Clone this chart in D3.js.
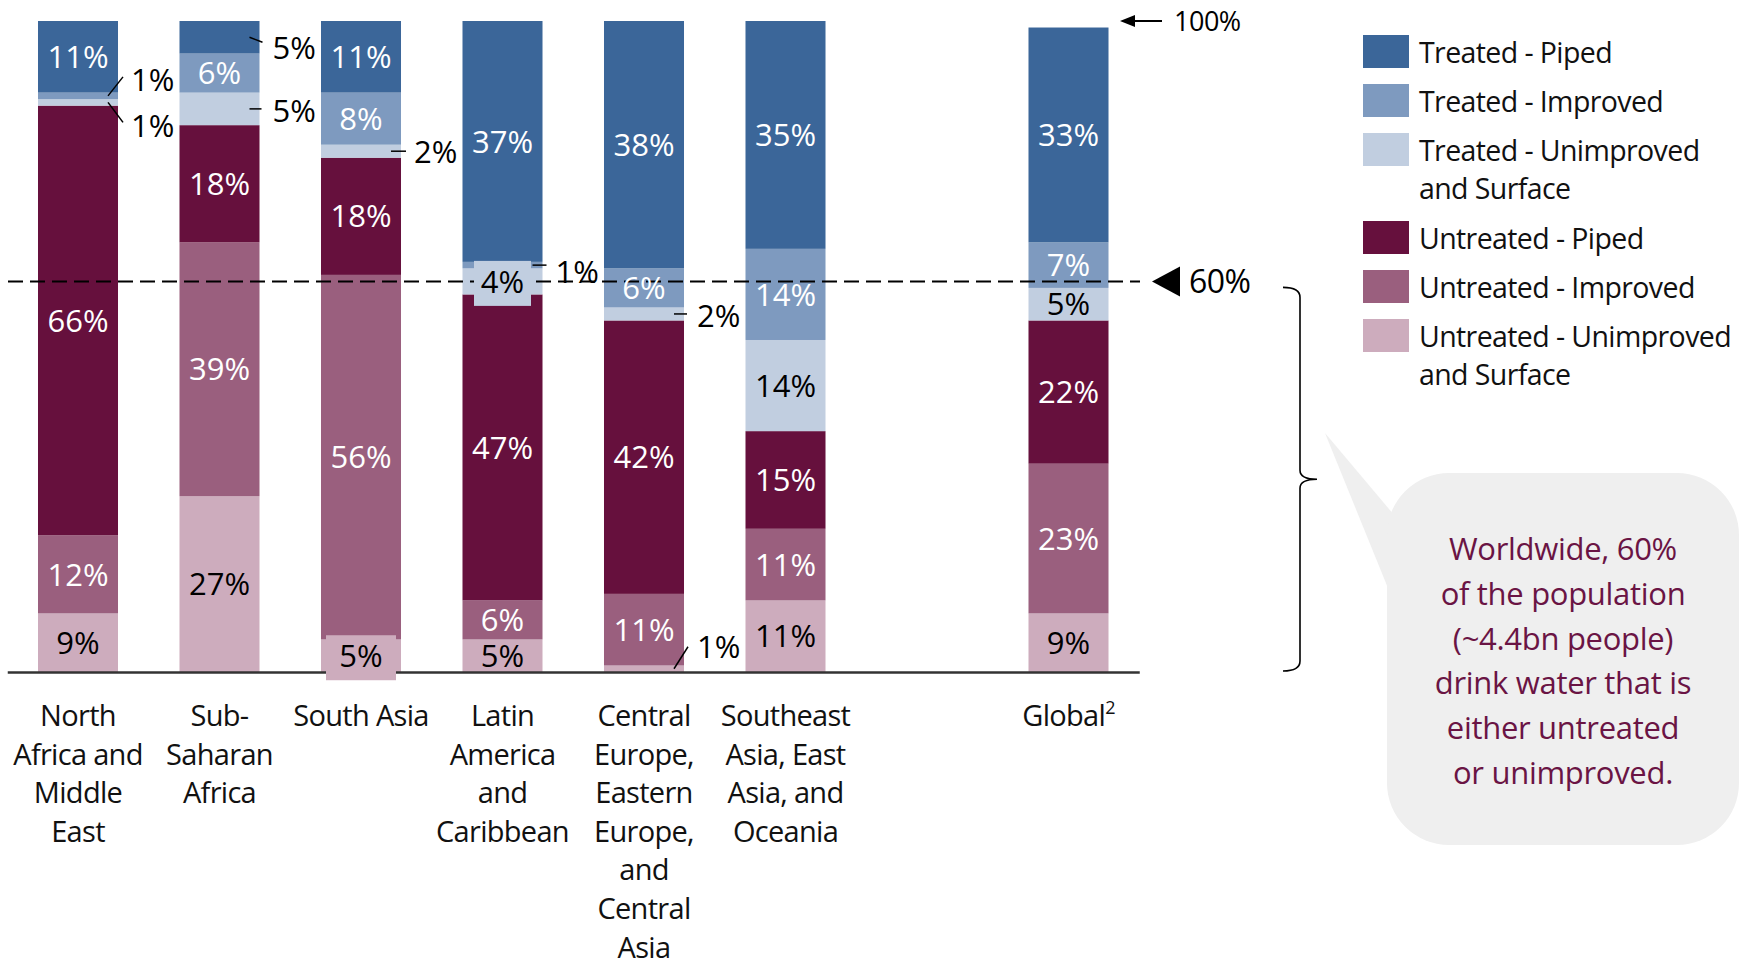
<!DOCTYPE html>
<html>
<head>
<meta charset="utf-8">
<script src="https://cdn.jsdelivr.net/npm/d3@7"></script>
<style>
  html, body { margin: 0; padding: 0; background: #ffffff; }
  svg { display: block; font-family: 'Open Sans', sans-serif; }
</style>
</head>
<body>
<svg id="chart" width="1752" height="958"></svg>
<script>
// ---- data -------------------------------------------------------------
const categories = [
  "North Africa and Middle East",
  "Sub-Saharan Africa",
  "South Asia",
  "Latin America and Caribbean",
  "Central Europe, Eastern Europe, and Central Asia",
  "Southeast Asia, East Asia, and Oceania",
  "Global"
];
const categoryLines = [
  ["North", "Africa and", "Middle", "East"],
  ["Sub-", "Saharan", "Africa"],
  ["South Asia"],
  ["Latin", "America", "and", "Caribbean"],
  ["Central", "Europe,", "Eastern", "Europe,", "and", "Central", "Asia"],
  ["Southeast", "Asia, East", "Asia, and", "Oceania"],
  ["Global"]
];
// series, stacked bottom to top (percent of population)
const seriesNames = [
  "Untreated - Unimproved and Surface",
  "Untreated - Improved",
  "Untreated - Piped",
  "Treated - Unimproved and Surface",
  "Treated - Improved",
  "Treated - Piped"
];
const untreatedUnimproved = [9, 27, 5, 5, 1, 11, 9];
const untreatedImproved   = [12, 39, 56, 6, 11, 11, 23];
const untreatedPiped      = [66, 18, 18, 47, 42, 15, 22];
const treatedUnimproved   = [1, 5, 2, 4, 2, 14, 5];
const treatedImproved     = [1, 6, 8, 1, 6, 14, 7];
const treatedPiped        = [11, 5, 11, 37, 38, 35, 33];
const seriesValues = [untreatedUnimproved, untreatedImproved, untreatedPiped,
                      treatedUnimproved, treatedImproved, treatedPiped];
const thresholdValue = 60;
const calloutLines = [
  "Worldwide, 60%",
  "of the population",
  "(~4.4bn people)",
  "drink water that is",
  "either untreated",
  "or unimproved."
];

// ---- styling ----------------------------------------------------------
const colors = {
  "Untreated - Unimproved and Surface": "#cdacbd",
  "Untreated - Improved": "#9a5f7e",
  "Untreated - Piped": "#66103d",
  "Treated - Unimproved and Surface": "#c1cee0",
  "Treated - Improved": "#7e9abf",
  "Treated - Piped": "#3b6699"
};
const darkText = {
  "Untreated - Unimproved and Surface": true,
  "Treated - Unimproved and Surface": true
};

const rows = categories.map((c, i) => {
  const r = { category: c };
  seriesNames.forEach((s, k) => { r[s] = seriesValues[k][i]; });
  return r;
});
const stacked = d3.stack().keys(seriesNames)(rows);

const svg = d3.select("#chart");

// band slots: one empty slot separates the regions from the global bar
const slots = categories.slice(0, 6).concat(["", "Global"]);
const x = d3.scaleBand()
  .domain(slots)
  .range([7.25, 7.25 + 8 * 141.5])
  .paddingInner(0.4346)
  .paddingOuter(0.2173);
const y = d3.scaleLinear().domain([0, 100]).range([672, 21]);
const bw = x.bandwidth();

// ---- bars -------------------------------------------------------------
const layers = svg.append("g").selectAll("g")
  .data(stacked)
  .join("g")
  .attr("fill", d => colors[d.key]);

layers.selectAll("rect")
  .data(d => d.map(p => Object.assign(p, { key: d.key })))
  .join("rect")
  .attr("x", d => x(d.data.category))
  .attr("y", d => y(d[1]))
  .attr("width", bw)
  .attr("height", d => y(d[0]) - y(d[1]));

// ---- baseline axis ----------------------------------------------------
const axis = svg.append("g")
  .attr("transform", `translate(0,${y(0)})`)
  .call(d3.axisBottom(x).tickSize(0).tickSizeOuter(0).tickFormat(""));
axis.select(".domain").attr("stroke", "#333").attr("stroke-width", 2.5);

// category labels under each bar
const catFont = 29;
categories.forEach((c, i) => {
  const t = svg.append("text")
    .attr("x", x(c) + bw / 2)
    .attr("y", 726)
    .attr("text-anchor", "middle")
    .attr("font-size", catFont)
    .attr("letter-spacing", -0.7)
    .attr("fill", "#111");
  categoryLines[i].forEach((ln, j) => {
    const ts = t.append("tspan")
      .attr("x", x(c) + bw / 2)
      .attr("dy", j === 0 ? 0 : 38.6)
      .text(ln);
  });
  if (c === "Global") {
    t.append("tspan").attr("font-size", 18).attr("dy", -12).text("2");
  }
});

// ---- 60% threshold line ----------------------------------------------
svg.append("line")
  .attr("x1", 8).attr("x2", 1140)
  .attr("y1", y(thresholdValue)).attr("y2", y(thresholdValue))
  .attr("stroke", "#000")
  .attr("stroke-width", 2)
  .attr("stroke-dasharray", "15,7");

svg.append("path")
  .attr("d", `M1152,${y(thresholdValue)} L1180,${y(thresholdValue) - 15} L1180,${y(thresholdValue) + 15} Z`)
  .attr("fill", "#000");
svg.append("text")
  .attr("x", 1189).attr("y", y(thresholdValue) + 12)
  .attr("font-size", 32)
  .attr("letter-spacing", -0.5)
  .text(thresholdValue + "%");

// 100% marker
svg.append("line")
  .attr("x1", 1132).attr("x2", 1162)
  .attr("y1", y(100)).attr("y2", y(100))
  .attr("stroke", "#000").attr("stroke-width", 2);
svg.append("path")
  .attr("d", `M1120,${y(100)} L1135,${y(100) - 6} L1135,${y(100) + 6} Z`)
  .attr("fill", "#000");
svg.append("text")
  .attr("x", 1174).attr("y", y(100) + 10)
  .attr("font-size", 27)
  .attr("letter-spacing", -0.5)
  .text("100%");

// ---- segment labels ---------------------------------------------------
// labels that sit beside their bar with a short leader line
const besideLabels = {
  "0|Treated - Improved": { dx: 5, dy: -19, ty: 91 },
  "0|Treated - Unimproved and Surface": { dx: 5, dy: 20, ty: 137 },
  "1|Treated - Piped": { dx: 3, dy: 5, ty: 59 },
  "1|Treated - Unimproved and Surface": { dx: 2, dy: 0, ty: 122 },
  "2|Treated - Unimproved and Surface": { dx: 5, dy: 0, ty: 163 },
  "3|Treated - Improved": { dx: 4, dy: 0, ty: 283 },
  "4|Treated - Unimproved and Surface": { dx: 3, dy: 0, ty: 327 },
  "4|Untreated - Unimproved and Surface": { dx: 4, dy: -22, ty: 658 }
};
// labels drawn on a patch of their segment colour
const boxedLabels = {
  "2|Untreated - Unimproved and Surface": { w: 70, h: 45 },
  "3|Treated - Unimproved and Surface": { w: 57, h: 45 }
};

const labelLayer = svg.append("g");
stacked.forEach(layer => {
  layer.forEach((d, i) => {
    const key = i + "|" + layer.key;
    const v = d[1] - d[0];
    const cx = x(d.data.category) + bw / 2;
    const cy = (y(d[0]) + y(d[1])) / 2;
    const right = x(d.data.category) + bw;
    if (besideLabels[key]) {
      const b = besideLabels[key];
      labelLayer.append("line")
        .attr("x1", right - 10).attr("y1", cy)
        .attr("x2", right + b.dx).attr("y2", cy + b.dy)
        .attr("stroke", "#000").attr("stroke-width", 1.5);
      labelLayer.append("text")
        .attr("x", right + 13).attr("y", b.ty)
        .attr("font-size", 31)
        .attr("fill", "#000")
        .text(v + "%");
      return;
    }
    if (boxedLabels[key]) {
      const b = boxedLabels[key];
      labelLayer.append("rect")
        .attr("x", cx - b.w / 2).attr("y", cy - b.h / 2 + 2)
        .attr("width", b.w).attr("height", b.h)
        .attr("fill", colors[layer.key]);
    }
    labelLayer.append("text")
      .attr("x", cx).attr("y", cy)
      .attr("dy", "0.36em")
      .attr("text-anchor", "middle")
      .attr("font-size", 31)
      .attr("fill", darkText[layer.key] ? "#000" : "#fff")
      .text(v + "%");
  });
});

// ---- legend -----------------------------------------------------------
const legendItems = seriesNames.slice().reverse();
const legendLines = {
  "Treated - Piped": ["Treated - Piped"],
  "Treated - Improved": ["Treated - Improved"],
  "Treated - Unimproved and Surface": ["Treated - Unimproved", "and Surface"],
  "Untreated - Piped": ["Untreated - Piped"],
  "Untreated - Improved": ["Untreated - Improved"],
  "Untreated - Unimproved and Surface": ["Untreated - Unimproved", "and Surface"]
};
let ly = 35;
const legend = svg.append("g");
legendItems.forEach(name => {
  legend.append("rect")
    .attr("x", 1363).attr("y", ly)
    .attr("width", 46).attr("height", 33)
    .attr("fill", colors[name]);
  const t = legend.append("text")
    .attr("x", 1419).attr("y", ly + 28)
    .attr("font-size", 28.5)
    .attr("letter-spacing", -0.6)
    .attr("fill", "#111");
  legendLines[name].forEach((ln, j) => {
    t.append("tspan").attr("x", 1419).attr("dy", j === 0 ? 0 : 38).text(ln);
  });
  ly += 49 + (legendLines[name].length - 1) * 39;
});

// ---- brace spanning 0–60% --------------------------------------------
const bTop = y(thresholdValue) + 6, bBot = y(0) - 1, bMid = (bTop + bBot) / 2;
svg.append("path")
  .attr("d", `M1283,${bTop} Q1300,${bTop} 1300,${bTop + 10} L1300,${bMid - 9} Q1300,${bMid} 1317,${bMid} Q1300,${bMid} 1300,${bMid + 9} L1300,${bBot - 10} Q1300,${bBot} 1283,${bBot}`)
  .attr("fill", "none")
  .attr("stroke", "#000")
  .attr("stroke-width", 1.6);

// ---- callout bubble ---------------------------------------------------
const bubble = svg.append("g");
bubble.append("path")
  .attr("d", "M1325,433 L1405,528 L1405,630 Z")
  .attr("fill", "#efefef");
bubble.append("rect")
  .attr("x", 1387).attr("y", 473)
  .attr("width", 352).attr("height", 372)
  .attr("rx", 62).attr("ry", 62)
  .attr("fill", "#efefef");
const ct = bubble.append("text")
  .attr("x", 1563).attr("y", 560)
  .attr("text-anchor", "middle")
  .attr("font-size", 31)
  .attr("letter-spacing", -0.3)
  .attr("fill", "#6a1444");
calloutLines.forEach((ln, j) => {
  ct.append("tspan").attr("x", 1563).attr("dy", j === 0 ? 0 : 44.8).text(ln);
});
</script>
</body>
</html>
